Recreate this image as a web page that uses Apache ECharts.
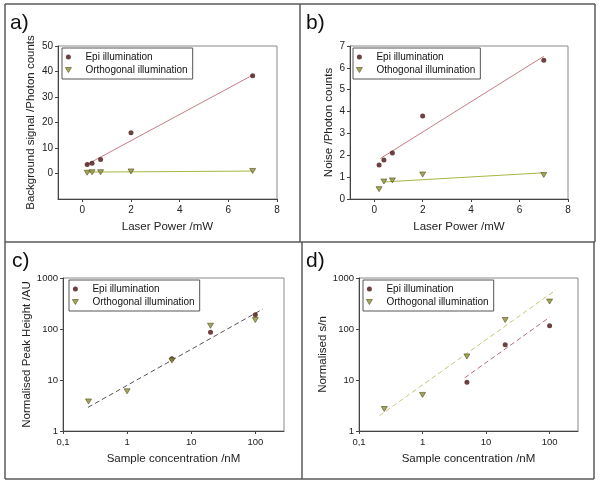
<!DOCTYPE html>
<html><head><meta charset="utf-8">
<script src="https://cdn.jsdelivr.net/npm/echarts@6/dist/echarts.min.js"></script>
<style>html,body{margin:0;padding:0;background:#fff}#c{width:600px;height:486px}</style>
</head><body><div id="c"></div>
<script>
// ---- data ----
const powerX = [0.2, 0.4, 0.75, 2, 7];
const bgEpi = [3.5, 4.0, 5.5, 16, 38.3];
const bgOrth = [0.3, 0.5, 0.5, 0.8, 1.0];
const bgFitX = [0.2, 7];
const bgEpiFit = [3.6, 38.6];
const bgOrthFit = [0.55, 0.95];

const noiseEpi = [1.55, 1.78, 2.1, 3.8, 6.35];
const noiseOrth = [0.45, 0.8, 0.85, 1.12, 1.1];
const noiseEpiFitX = [0.25, 7];
const noiseEpiFit = [1.85, 6.53];
const noiseOrthFitX = [0.4, 7];
const noiseOrthFit = [0.78, 1.2];

const concX = [0.25, 1, 5, 20, 100];
const concEpiX = [5, 20, 100];
const peakEpi = [26, 86, 190];
const peakOrth = [3.8, 6.0, 24, 116, 150];
const peakFitX = [0.245, 130];
const peakFit = [2.9, 245];

const snEpi = [9, 49, 116];
const snOrth = [2.7, 5.1, 29, 150, 345];
const snOrthFitX = [0.21, 125];
const snOrthFit = [2.0, 580];
const snEpiFitX = [4.6, 100];
const snEpiFit = [11, 170];

const linTicksX = [0, 2, 4, 6, 8];
const logTicksX = [0.1, 1, 10, 100];
const logTicksY = [1, 10, 100, 1000];
const panelLabels = ['a)', 'b)', 'c)', 'd)'];
const epiName = 'Epi illumination';
const orthName = 'Orthogonal illumination';
const orthNameB = 'Othogonal illumination';

// ---- styling ----
const FONT = "'Liberation Sans', Arial, sans-serif";
const triPath = 'path://M0,0L6,0L3,5Z';
const pts = (xs, ys) => xs.map((x, i) => [x, ys[i]]);
const epiStyle = { color: '#4a1212' };
const orthStyle = { color: '#8f8f3a', borderColor: '#55551e', borderWidth: 0.8 };

const grids = [
  { left: 58, top: 46, width: 219, height: 153 },
  { left: 350, top: 46, width: 218, height: 153 },
  { left: 63, top: 278, width: 221, height: 153 },
  { left: 359, top: 278, width: 219, height: 153 }
].map(g => Object.assign(g, { show: true, borderColor: '#8a8a8a', borderWidth: 1, containLabel: false, outerBoundsMode: 'none' }));

function axisCommon(fs) {
  return {
    axisLine: { show: true, onZero: false, lineStyle: { color: '#444', width: 1 } },
    axisTick: { show: true, inside: false, length: 3, lineStyle: { color: '#444' } },
    axisLabel: { color: '#222', fontSize: fs, fontFamily: FONT, margin: 5 },
    splitLine: { show: false },
    nameLocation: 'middle',
    nameTextStyle: { color: '#222', fontSize: 11.5, fontFamily: FONT }
  };
}
const fmtComma = v => String(Number(Number(v).toPrecision(3))).replace('.', ',');
const fmtPlain = v => String(Math.round(v));

const xAxes = [
  Object.assign(axisCommon(10), { type: 'value', gridIndex: 0, min: -1, max: 8, name: 'Laser Power /mW', nameGap: 22 }),
  Object.assign(axisCommon(10), { type: 'value', gridIndex: 1, min: -1, max: 8, name: 'Laser Power /mW', nameGap: 22 }),
  Object.assign(axisCommon(9.5), { type: 'log', logBase: 10, gridIndex: 2, min: 0.1, max: 280, name: 'Sample concentration /nM', nameGap: 22 }),
  Object.assign(axisCommon(9.5), { type: 'log', logBase: 10, gridIndex: 3, min: 0.1, max: 280, name: 'Sample concentration /nM', nameGap: 22 })
];
xAxes[0].axisLabel.customValues = linTicksX; xAxes[0].axisTick.customValues = linTicksX;
xAxes[1].axisLabel.customValues = linTicksX; xAxes[1].axisTick.customValues = linTicksX;
xAxes[0].axisLabel.margin = 6; xAxes[1].axisLabel.margin = 6;
[2, 3].forEach(i => {
  xAxes[i].axisLabel.customValues = logTicksX; xAxes[i].axisTick.customValues = logTicksX;
  xAxes[i].axisLabel.formatter = fmtComma; xAxes[i].axisLabel.margin = 6;
});

const yAxes = [
  Object.assign(axisCommon(10), { type: 'value', gridIndex: 0, min: -10, max: 50, interval: 10, name: 'Background signal /Photon counts', nameGap: 21 }),
  Object.assign(axisCommon(10), { type: 'value', gridIndex: 1, min: 0, max: 7, interval: 1, name: 'Noise /Photon counts', nameGap: 15 }),
  Object.assign(axisCommon(9.5), { type: 'log', logBase: 10, gridIndex: 2, min: 1, max: 1000, name: 'Normalised Peak Height /AU', nameGap: 28 }),
  Object.assign(axisCommon(9.5), { type: 'log', logBase: 10, gridIndex: 3, min: 1, max: 1000, name: 'Normalised s/n', nameGap: 29 })
];
yAxes[0].axisLabel.showMinLabel = false;
[2, 3].forEach(i => {
  yAxes[i].axisLabel.customValues = logTicksY; yAxes[i].axisTick.customValues = logTicksY;
  yAxes[i].axisLabel.formatter = fmtPlain;
});

function fit(idx, xs, ys, color, dashed, name) {
  return { type: 'line', name: name, xAxisIndex: idx, yAxisIndex: idx, data: pts(xs, ys), symbol: 'none', silent: true, z: 1,
    lineStyle: { color: color, width: 1, type: dashed ? [5, 3] : 'solid' } };
}
function epi(idx, xs, ys) {
  return { type: 'scatter', name: epiName, xAxisIndex: idx, yAxisIndex: idx, data: pts(xs, ys), symbol: 'circle', symbolSize: 5, itemStyle: epiStyle, z: 3 };
}
function orth(idx, xs, ys, name) {
  return { type: 'scatter', name: name, xAxisIndex: idx, yAxisIndex: idx, data: pts(xs, ys), symbol: triPath, symbolSize: [6, 5], itemStyle: orthStyle, z: 3 };
}

const series = [
  fit(0, bgFitX, bgEpiFit, '#c97b84', false, 'fitA1'),
  fit(0, bgFitX, bgOrthFit, '#a9b545', false, 'fitA2'),
  epi(0, powerX, bgEpi),
  orth(0, powerX, bgOrth, orthName),
  fit(1, noiseEpiFitX, noiseEpiFit, '#c97b84', false, 'fitB1'),
  fit(1, noiseOrthFitX, noiseOrthFit, '#a9b545', false, 'fitB2'),
  epi(1, powerX, noiseEpi),
  orth(1, powerX, noiseOrth, orthNameB),
  fit(2, peakFitX, peakFit, '#555555', true, 'fitC'),
  epi(2, concEpiX, peakEpi),
  orth(2, concX, peakOrth, orthName),
  fit(3, snOrthFitX, snOrthFit, '#c9c77a', true, 'fitD1'),
  fit(3, snEpiFitX, snEpiFit, '#b56c7c', true, 'fitD2'),
  epi(3, concEpiX, snEpi),
  orth(3, concX, snOrth, orthName)
];

function legend(left, top, oName) {
  return {
    left: left, top: top, orient: 'vertical', itemWidth: 24, itemHeight: 5, itemGap: 1,
    padding: [3, 5, 3, 3], borderColor: '#555', borderWidth: 1, backgroundColor: '#fff',
    selectedMode: false,
    itemStyle: { borderWidth: 0.8 },
    textStyle: { fontSize: 10, fontFamily: FONT, color: '#111', lineHeight: 12 },
    data: [{ name: epiName, icon: 'circle' }, { name: oName, icon: triPath }]
  };
}
const legends = [
  legend(62, 48, orthName),
  legend(353, 48, orthNameB),
  legend(69, 280, orthName),
  legend(363, 280, orthName)
];

// frames and panel labels
const frameLines = [
  [5, 4, 595, 4], [5, 4, 5, 479], [5, 479, 594, 479], [595, 4, 595, 242], [594, 242, 594, 479],
  [5, 242, 595, 242], [300, 4, 300, 242], [302, 242, 302, 479]
];
const labelPos = [[10, 23], [306, 23], [12, 261], [306, 261]];
const graphic = frameLines.map(l => ({ type: 'line', shape: { x1: l[0], y1: l[1], x2: l[2], y2: l[3] }, style: { stroke: '#5a5a5a', lineWidth: 1.5 }, silent: true, z: 10 }))
  .concat(panelLabels.map((t, i) => ({ type: 'text', x: labelPos[i][0], y: labelPos[i][1], silent: true,
    style: { text: t, font: '21px ' + FONT, fill: '#111', verticalAlign: 'middle', align: 'left' } })));

const chart = echarts.init(document.getElementById('c'), null, { renderer: 'canvas' });
chart.setOption({
  animation: false,
  backgroundColor: '#fff',
  grid: grids, xAxis: xAxes, yAxis: yAxes, legend: legends, series: series, graphic: graphic
});
</script></body></html>
